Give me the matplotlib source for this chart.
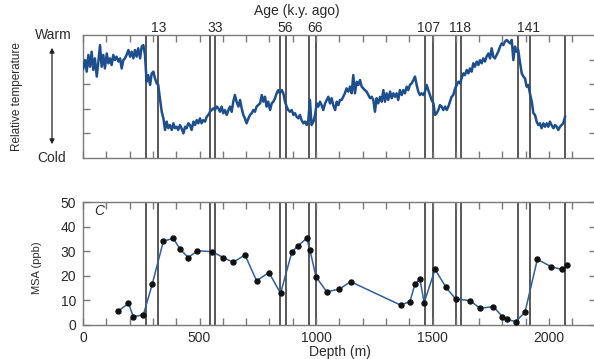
import matplotlib
matplotlib.use("Agg")
import matplotlib.pyplot as plt
from matplotlib.transforms import blended_transform_factory

plt.rcParams['font.family'] = ['Liberation Sans', 'DejaVu Sans']

# ---------------- data ----------------
temp_depth = [
    1, 9, 16, 23, 30, 37, 44, 51, 59, 66,
    73, 80, 87, 94, 102, 109, 116, 123, 130, 137,
    144, 152, 159, 166, 173, 180, 187, 195, 202, 209,
    216, 223, 230, 237, 245, 252, 259, 266, 273, 280,
    288, 295, 302, 309, 316, 323, 330, 338, 345, 352,
    359, 366, 373, 381, 388, 395, 402, 409, 416, 423,
    431, 438, 445, 452, 459, 466, 474, 481, 488, 495,
    502, 509, 516, 524, 531, 538, 545, 552, 559, 566,
    574, 581, 588, 595, 602, 609, 617, 624, 631, 638,
    645, 652, 659, 667, 674, 681, 688, 695, 702, 710,
    717, 724, 731, 738, 745, 752, 760, 767, 774, 781,
    788, 795, 803, 810, 817, 824, 831, 838, 845, 853,
    860, 867, 874, 881, 888, 896, 903, 910, 917, 924,
    931, 938, 946, 953, 960, 967, 974, 981, 989, 996,
    1003, 1010, 1017, 1024, 1031, 1039, 1046, 1053, 1060, 1067,
    1074, 1082, 1089, 1096, 1103, 1110, 1117, 1124, 1131, 1139,
    1146, 1153, 1160, 1167, 1175, 1182, 1189, 1196, 1203, 1210,
    1217, 1225, 1232, 1239, 1246, 1253, 1260, 1267, 1275, 1282,
    1289, 1296, 1303, 1310, 1318, 1325, 1332, 1339, 1346, 1353,
    1360, 1368, 1375, 1382, 1389, 1396, 1403, 1411, 1418, 1425,
    1432, 1439, 1446, 1453, 1461, 1468, 1475, 1482, 1489, 1496,
    1504, 1511, 1518, 1525, 1532, 1539, 1546, 1554, 1561, 1568,
    1575, 1582, 1589, 1597, 1604, 1611, 1618, 1625, 1632, 1639,
    1647, 1654, 1661, 1668, 1675, 1682, 1690, 1697, 1704, 1711,
    1718, 1725, 1732, 1740, 1747, 1754, 1761, 1768, 1775, 1782,
    1790, 1797, 1804, 1811, 1818, 1825, 1833, 1840, 1847, 1854,
    1861, 1868, 1875, 1883, 1890, 1897, 1904, 1911, 1918, 1926,
    1933, 1940, 1947, 1954, 1961, 1968, 1976, 1983, 1990, 1997,
    2004, 2011, 2019, 2026, 2033, 2040, 2047, 2054, 2061, 2069,
]
temp_rel = [
    3.64, 3.98, 3.51, 4.19, 3.71, 4.32, 3.58, 4.05, 3.31, 3.92,
    4.59, 3.71, 4.19, 3.64, 4.25, 3.85, 4.05, 3.78, 4.19, 3.98,
    4.12, 3.92, 4.05, 3.64, 3.98, 4.05, 4.19, 4.39, 4.12, 4.32,
    4.05, 4.39, 4.12, 4.46, 4.05, 4.53, 4.59, 4.19, 3.10, 3.37,
    2.97, 3.44, 3.51, 3.24, 3.04, 2.97, 2.43, 1.88, 1.61, 1.14,
    1.48, 1.21, 1.34, 1.14, 1.41, 1.21, 1.27, 1.14, 1.34, 1.21,
    1.00, 1.27, 1.21, 1.41, 1.34, 1.14, 1.48, 1.34, 1.54, 1.41,
    1.61, 1.41, 1.54, 1.48, 1.68, 1.75, 1.88, 1.95, 2.02, 1.95,
    2.09, 2.02, 1.88, 2.09, 1.82, 1.95, 1.75, 1.95, 2.09, 1.88,
    2.29, 2.56, 2.29, 2.09, 2.36, 2.02, 1.75, 1.61, 1.41, 1.61,
    1.75, 1.82, 1.95, 1.88, 2.09, 2.15, 2.22, 2.56, 2.29, 2.49,
    2.09, 2.29, 1.95, 2.22, 2.29, 2.43, 2.63, 2.76, 2.63, 2.76,
    2.63, 2.29, 2.09, 1.95, 1.88, 1.95, 1.75, 1.82, 1.68, 1.61,
    1.75, 1.54, 1.41, 1.48, 1.34, 1.54, 2.36, 1.34, 1.48, 1.75,
    2.22, 2.09, 2.29, 2.15, 1.95, 2.22, 2.36, 2.49, 2.22, 2.43,
    2.15, 1.95, 2.29, 2.15, 2.36, 2.36, 2.49, 2.63, 2.83, 2.70,
    2.90, 2.63, 3.37, 2.63, 3.10, 2.97, 3.17, 2.90, 2.83, 2.76,
    2.70, 2.56, 2.43, 2.49, 2.36, 1.88, 2.43, 2.22, 2.49, 2.29,
    2.76, 2.29, 2.63, 2.36, 2.70, 2.43, 2.63, 2.49, 2.63, 2.36,
    2.76, 2.56, 2.76, 2.63, 2.90, 2.76, 2.97, 3.04, 3.17, 3.31,
    2.97, 2.70, 2.56, 2.63, 2.56, 2.70, 2.97, 2.76, 2.56, 2.36,
    2.22, 1.75, 1.82, 1.95, 2.15, 2.09, 1.95, 2.09, 1.95, 2.09,
    2.29, 2.49, 2.56, 2.83, 2.97, 3.10, 3.04, 3.24, 3.44, 3.37,
    3.58, 3.44, 3.64, 3.51, 3.85, 3.71, 3.92, 3.78, 3.98, 3.85,
    4.05, 3.92, 4.12, 4.25, 4.05, 4.46, 4.12, 4.05, 4.19, 4.32,
    4.53, 4.66, 4.59, 4.73, 4.80, 4.73, 4.66, 4.80, 3.98, 4.53,
    4.32, 4.39, 3.92, 3.44, 3.31, 3.24, 2.90, 2.97, 2.63, 2.29,
    1.82, 1.75, 1.48, 1.34, 1.41, 1.21, 1.41, 1.27, 1.41, 1.27,
    1.48, 1.34, 1.21, 1.34, 1.27, 1.14, 1.27, 1.34, 1.41, 1.68,
]

msa_depth = [152, 195, 216, 259, 297, 345, 388, 416, 452, 491, 555, 602, 645,
             695, 745, 798, 848, 896, 921, 960, 974, 1000, 1046, 1100, 1149,
             1363, 1403, 1425, 1446, 1464, 1511, 1558, 1599, 1661, 1704, 1761,
             1800, 1818, 1857, 1897, 1950, 2009, 2054, 2079]
msa_ppb = [5.7, 8.8, 3.4, 4.1, 16.5, 34.1, 35.2, 30.9, 27.4, 30.2, 29.8, 27.4,
           25.5, 28.5, 18.0, 21.3, 12.9, 29.5, 32.1, 35.2, 30.5, 19.6, 13.5,
           14.6, 17.6, 8.1, 9.5, 16.7, 18.6, 9.1, 22.6, 15.3, 10.6, 9.9, 6.8,
           7.5, 3.4, 2.3, 1.4, 5.2, 26.7, 23.7, 22.6, 24.4]

event_depths = [270, 322, 545, 567, 845, 870, 970, 1000, 1468, 1501,
                1599, 1622, 1867, 1918, 2069]
age_labels = ["13", "33", "56", "66", "107", "118", "141"]
age_label_depths = [324, 567, 866, 996, 1483, 1620, 1910]

msa_ticks = [0, 10, 20, 30, 40, 50]
depth_ticks = [0, 500, 1000, 1500, 2000]

# ---------------- figure ----------------
W, H = 594, 359
fig = plt.figure(figsize=(W / 100, H / 100), dpi=100)

def px(x0, y_top, x1, y_bot):
    return [x0 / W, 1 - y_bot / H, (x1 - x0) / W, (y_bot - y_top) / H]

ax1 = fig.add_axes(px(83, 35, 595.6, 158))
ax2 = fig.add_axes(px(83, 202, 595.6, 325))

spine_col = '#7a7a7a'
text_col = '#2a2a2a'
fs = 10
minor = list(range(0, 2201, 100))

for ax in (ax1, ax2):
    ax.set_xlim(0, 2200)
    for s in ax.spines.values():
        s.set_color(spine_col)
        s.set_linewidth(1.0)
    ax.spines['right'].set_visible(False)
    for d in event_depths:
        ax.axvline(d, color='#4a4a4a', lw=1.3, zorder=1)
    ax.set_xticks(minor)
    ax.tick_params(axis='both', direction='in', length=5, width=1,
                   color=spine_col, top=True, right=True,
                   labelcolor=text_col, labelsize=fs)

# top panel
ax1.plot(temp_depth, temp_rel, color='#1d4f8f', lw=1.8, zorder=3)
ax1.set_ylim(0, 5)
ax1.set_yticks([1, 2, 3, 4])
ax1.set_yticklabels([])
ax1.set_xticklabels([])

tr = blended_transform_factory(ax1.transData, fig.transFigure)
for lab, d in zip(age_labels, age_label_depths):
    ax1.text(d, 1 - 28 / H, lab, transform=tr, ha='center', va='center',
             fontsize=fs, color=text_col)

fig.text(297 / W, 1 - 11 / H, "Age (k.y. ago)", ha='center', va='center',
         fontsize=fs, color=text_col)
fig.text(53 / W, 1 - 35 / H, "Warm", ha='center', va='center',
         fontsize=fs, color=text_col)
fig.text(52 / W, 1 - 158 / H, "Cold", ha='center', va='center',
         fontsize=fs, color=text_col)
fig.text(17 / W, 1 - 97 / H, "Relative temperature", ha='center',
         va='center', rotation=90, fontsize=8.5, color=text_col)
fig.patches.append(matplotlib.patches.FancyArrowPatch(
    (52 / W, 1 - 45 / H), (52 / W, 1 - 147 / H), transform=fig.transFigure,
    arrowstyle='<|-|>', mutation_scale=7, color='#222222', lw=0.9))

# bottom panel
ax2.plot(msa_depth, msa_ppb, color='#2e5f9e', lw=1.1, zorder=3,
         marker='o', markersize=3.6, markerfacecolor='#111111',
         markeredgecolor='#111111')
ax2.set_ylim(0, 50)
ax2.set_yticks(msa_ticks)
ax2.set_xticklabels([str(t) if t in depth_ticks else '' for t in minor])
ax2.tick_params(axis='x', pad=4)
ax2.tick_params(axis='y', pad=5)
ax2.tick_params(axis='y', which='both', labelright=False)
fig.text(37 / W, 1 - 268 / H, "MSA (ppb)", ha='center', va='center',
         rotation=90, fontsize=8, color=text_col)
ax2.text(0.022, 0.93, "C", transform=ax2.transAxes, fontsize=fs,
         style='italic', ha='left', va='center', color=text_col)
fig.text(340 / W, 1 - 352 / H, "Depth (m)", ha='center', va='center',
         fontsize=fs, color=text_col)

fig.savefig("out.png", dpi=100)
